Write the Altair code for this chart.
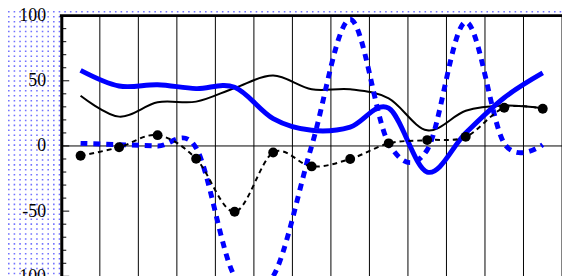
import altair as alt
import pandas as pd
import numpy as np

# ---- data ----
categories = list(range(1, 14))
x_pos = [c - 0.5 for c in categories]
blue_solid = [58, 46, 47, 44, 45, 21, 12, 14.5, 29, -20, 10, 37, 56]
black_solid = [38.5, 22.5, 33.5, 34, 44.5, 54, 43.5, 43.5, 36.5, 12, 27, 31, 29]
blue_dashed = [2, 1, 0, -1.5, -100, -100, 0, 97, 2, -3, 95, 2, 1]
black_dashed = [-7.5, -1, 8.3, -9.8, -50.5, -5, -15.7, -10, 2, 4.5, 7, 29.3, 28.5]
y_labels = [100, 50, 0, -50, -100]
major_ticks = [100, 50, 0, -50, -100]
minor_ticks = [v for v in range(-100, 101, 10) if v % 50 != 0]
grid_x = list(range(0, 14))

W, H = 507, 264
xs = alt.Scale(domain=[0, 13], nice=False, zero=False)
ys = alt.Scale(domain=[-100, 100], nice=False, zero=False)
yaxis = alt.Axis(values=y_labels, labelExpr="toString(datum.value)",
                 labelFont="Liberation Serif", labelFontSize=18, labelColor="black",
                 labelPadding=16, ticks=False, tickSize=0, domainColor="black",
                 domainWidth=3, grid=False, zindex=1, title=None,
                 labelFlush=False, labelOverlap=False)


def X(f):
    return alt.X(f, type="quantitative", scale=xs, axis=None, title=None)


def Y(f):
    return alt.Y(f, type="quantitative", scale=ys, axis=yaxis, title=None)


df = pd.DataFrame({"x": x_pos, "blue_solid": blue_solid, "black_solid": black_solid,
                   "blue_dashed": blue_dashed, "black_dashed": black_dashed})
one = pd.DataFrame({"v": [0]})

# decorative dotted background (rows of dotted rules)
rows = pd.DataFrame({"r": np.arange(110.5, -101, -5 / 1.32)})
pattern = alt.Chart(rows).mark_rule(color="#7272ff", strokeWidth=1.6,
                                     strokeDash=[1.6, 4.1]).encode(
    y=Y("r"), x=alt.value(-54), x2=alt.value(W))

white = alt.Chart(one).mark_rect(color="white").encode(
    x=alt.value(0), x2=alt.value(W), y=alt.value(0), y2=alt.value(H))

grid = alt.Chart(pd.DataFrame({"g": grid_x})).mark_rule(color="black", strokeWidth=1).encode(
    x=X("g"), y=alt.value(0), y2=alt.value(H))

zero = alt.Chart(one).mark_rule(color="black", strokeWidth=1).encode(
    y=Y("v"), x=alt.value(0), x2=alt.value(W))

l_black = alt.Chart(df).mark_line(color="black", strokeWidth=2, interpolate="cardinal").encode(
    x=X("x"), y=Y("black_solid"))
l_blue = alt.Chart(df).mark_line(color="#0000ff", strokeWidth=5, interpolate="cardinal").encode(
    x=X("x"), y=Y("blue_solid"))
l_bluedash = alt.Chart(df).mark_line(color="#0000ff", strokeWidth=5, strokeDash=[7, 6],
                                     interpolate="cardinal").encode(
    x=X("x"), y=Y("blue_dashed"))
l_blackdash = alt.Chart(df).mark_line(color="black", strokeWidth=2, strokeDash=[5, 4],
                                      interpolate="cardinal").encode(
    x=X("x"), y=Y("black_dashed"))
pts = alt.Chart(df).mark_circle(color="black", size=100, opacity=1).encode(
    x=X("x"), y=Y("black_dashed"))

top = alt.Chart(one).mark_rule(color="black", strokeWidth=3).encode(
    y=alt.value(0), x=alt.value(-1.5), x2=alt.value(W))

t_minor = alt.Chart(pd.DataFrame({"t": minor_ticks})).mark_rule(color="black", strokeWidth=1).encode(
    y=Y("t"), x=alt.value(0), x2=alt.value(5))
t_major = alt.Chart(pd.DataFrame({"t": major_ticks})).mark_rule(color="black", strokeWidth=1).encode(
    y=Y("t"), x=alt.value(0), x2=alt.value(8))

chart = alt.layer(pattern, white, grid, zero, l_black, l_blue, l_bluedash, l_blackdash, pts,
                  top, t_minor, t_major).properties(
    width=W, height=H, autosize="none",
    padding={"left": 54, "top": 6, "right": 0, "bottom": 0},
    background="white",
).configure_view(stroke=None)

chart.save("out.html", embed_options={"renderer": "svg", "actions": False})
